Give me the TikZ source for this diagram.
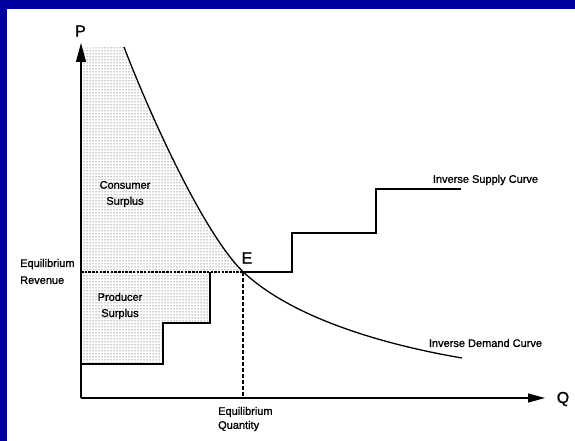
\documentclass[tikz,border=0pt]{standalone}
\usepackage{fontspec}
\setmainfont{Liberation Sans}
\newfontfamily\heavysans[FakeBold=1.2]{Liberation Sans}
\newfontfamily\heavybig[FakeBold=1.0]{Liberation Sans}
\usetikzlibrary{patterns,arrows.meta}
\definecolor{frameblue}{RGB}{0,0,156}
\tikzset{
  lbl/.style={font=\heavysans\fontsize{11}{16}\selectfont, inner sep=0pt},
  biglbl/.style={font=\heavybig\fontsize{16}{18}\selectfont, inner sep=0pt},
  axisline/.style={line width=1.1pt},
  supplyline/.style={line width=1.9pt, line join=miter},
  demandline/.style={line width=1.3pt},
  eqdash/.style={line width=1.8pt, dash pattern=on 2.5pt off 1.2pt},
  eqvdash/.style={line width=1.2pt, dash pattern=on 4pt off 2pt},
  surplus/.style={pattern=dots, pattern color=black!85},
}
\begin{document}
\begin{tikzpicture}[x=1pt,y=-1pt]
\useasboundingbox (0,0) rectangle (575,441);
\fill[white] (0,0) rectangle (575,441);
\fill[frameblue] (0,0) rectangle (575,9);
\fill[frameblue] (0,0) rectangle (7,441);

% key coordinates
\coordinate (O) at (81,398);
\coordinate (Ptip) at (81,43);
\coordinate (Qtip) at (545,398);
\coordinate (E) at (243,271.7);
\coordinate (Dtop) at (124,47);
\coordinate (Dend) at (462,358);
\coordinate (Rev) at (81,271.7);
\coordinate (Qeq) at (243,398);
\coordinate (S0) at (81,364);
\coordinate (S1) at (163,364);
\coordinate (S2) at (163,323);
\coordinate (S3) at (210,323);
\coordinate (S4) at (210,271.7);
\coordinate (S5) at (292,271.7);
\coordinate (S6) at (292,233);
\coordinate (S7) at (376,233);
\coordinate (S8) at (376,189);
\coordinate (S9) at (461,189);

% surplus shading
\fill[surplus] (81,48) -- (Dtop) .. controls (152,120) and (205,235) .. (E)
  -- (S4) -- (S3) -- (S2) -- (S1) -- (S0) -- cycle;

% axes
\draw[axisline, -{Triangle[length=19pt,width=10pt]}] (O) -- (Ptip);
\draw[axisline, -{Triangle[length=17pt,width=9pt]}] (O) -- (Qtip);

% equilibrium lines
\draw[eqdash] (Rev) -- (E);
\draw[eqvdash] (E) -- (Qeq);

% supply
\draw[supplyline] (S0) -- (S1) -- (S2) -- (S3) -- (S4);
\draw[supplyline] (E) -- (S5) -- (S6) -- (S7) -- (S8) -- (S9);

% demand
\draw[demandline] (Dtop) .. controls (152,120) and (205,235) .. (E)
  .. controls (291,317) and (380,344) .. (Dend);

% labels
\node[biglbl] (P) at (80.5,31) {P};
\node[biglbl] (Q) at (563,399) {Q};
\node[biglbl] (Elbl) at (247,258) {E};
\node[lbl, align=center] (CS) at (125,194) {Consumer\\Surplus};
\node[lbl, align=center] (PS) at (120,306) {Producer\\Surplus};
\node[lbl, align=left, anchor=west, font=\heavysans\fontsize{11}{17}\selectfont] (ER) at (20,271.5) {Equilibrium\\Revenue};
\node[lbl, align=left, anchor=west, font=\heavysans\fontsize{11}{14}\selectfont] (EQ) at (218,419) {Equilibrium\\Quantity};
\node[lbl] (ISC) at (485.5,180) {Inverse Supply Curve};
\node[lbl] (IDC) at (485.5,343) {Inverse Demand Curve};
\end{tikzpicture}
\end{document}
